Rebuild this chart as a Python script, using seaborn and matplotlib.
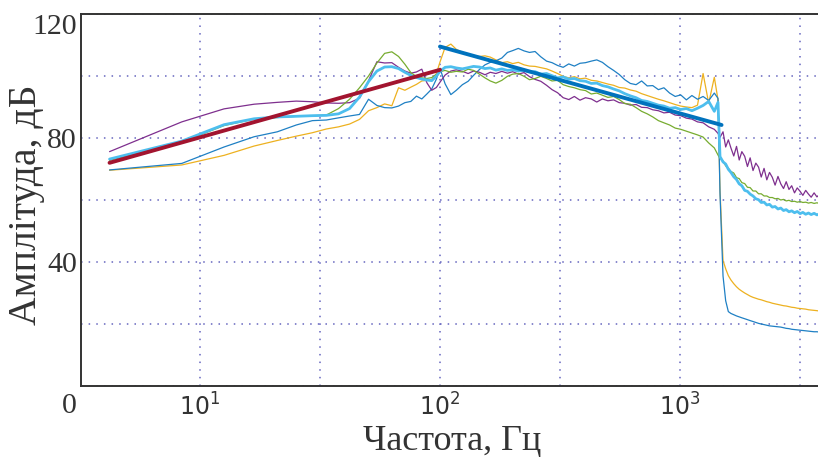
import matplotlib
matplotlib.use("Agg")
import matplotlib.pyplot as plt
import matplotlib.transforms as mtransforms
from matplotlib.ticker import NullLocator
import pandas as pd
import seaborn as sns

sns.set_style("white")
plt.rcParams["font.family"] = ["Liberation Serif", "DejaVu Serif"]
plt.rcParams["mathtext.fontset"] = "dejavusans"

# frequency bins, Hz (low / mid / tail part of the spectrum)
freq_low = [4.2, 8.4, 12.6, 16.8, 21.0, 25.2, 29.4, 33.6, 37.8, 42.0, 46.2, 50.4,
            54.6, 58.8, 63.0, 67.2, 71.4, 75.6, 79.8, 84.0, 88.2, 92.4, 96.6]
freq_mid = [100, 105, 111, 117, 124, 131, 138, 146, 154, 162, 171, 181, 191, 201,
            212, 224, 236, 249, 263, 278, 293, 309, 326, 344, 363, 383, 404, 427,
            450, 475, 501, 529, 558, 589, 621, 656, 692, 730, 770, 813, 857, 905,
            955, 1007, 1063, 1121, 1183, 1248, 1317, 1390, 1440]
freq_tail = [1468, 1511, 1550, 1590, 1630, 1675, 1720, 1765, 1810, 1860, 1910,
             1960, 2015, 2070, 2125, 2180, 2240, 2300, 2360, 2425, 2490, 2560,
             2630, 2700, 2770, 2845, 2920, 3000, 3080, 3165, 3250, 3340, 3430,
             3520, 3620, 3720, 3800]
freq = freq_low + freq_mid + freq_tail

# amplitude spectra, dB
yellow = [69.6, 71.3, 74.4, 77.4, 79.2, 80.6, 81.7, 82.9, 83.6, 84.5, 86.0, 88.8,
          89.8, 91.0, 90.4, 96.2, 95.4, 96.4, 97.3, 98.4, 98.6, 98.9, 100.8,
          104.5, 109.2, 110.3, 108.6, 107.6, 106.9, 106.6, 106.3, 106.5, 106.1,
          105.2, 104.3, 104.6, 104.0, 104.4, 103.6, 103.2, 103.1, 102.7, 102.3,
          101.6, 100.8, 99.9, 99.4, 99.8, 99.1, 99.3, 98.6, 98.4, 97.9,
          97.4, 97.0, 96.3, 96.1, 95.5, 95.1, 94.3, 93.7, 93.1, 92.5,
          92.0, 91.4, 90.8, 90.3, 90.0, 89.8, 90.6, 100.8, 91.2, 99.6, 92.3,
          63.0, 40.5, 37.8, 35.6, 34.2, 33.0, 32.0, 31.2, 30.6, 30.0,
          29.5, 29.0, 28.6, 28.3, 28.0, 27.8, 27.5, 27.2, 27.0, 26.7,
          26.5, 26.3, 26.1, 25.9, 25.8, 25.6, 25.4, 25.3, 25.1, 25.0,
          24.9, 24.8, 24.6, 24.5, 24.4, 24.3, 24.2]
blue = [69.7, 71.8, 77.1, 80.4, 82.0, 84.2, 85.6, 85.8, 86.5, 87.1, 87.6, 92.5,
        90.5, 89.8, 89.7, 90.3, 91.4, 91.8, 93.5, 92.6, 94.2, 95.8, 99.0,
        102.5, 97.5, 94.0, 95.4, 97.2, 98.3, 100.2, 102.1, 103.6, 104.4,
        104.9, 105.8, 107.6, 108.2, 108.9, 108.1, 107.6, 107.9, 106.2, 104.8,
        104.3, 103.4, 102.8, 103.9, 103.2, 104.1, 104.3, 104.8, 105.2, 104.4,
        103.0, 101.8, 100.5, 98.8, 97.6, 97.2, 98.4, 96.8, 96.9, 95.6,
        96.2, 94.5, 93.4, 93.9, 92.3, 93.7, 92.5, 93.4, 92.1, 94.5, 92.8,
        62.0, 35.5, 27.5, 24.0, 23.4, 23.0, 22.6, 22.3, 22.0, 21.7,
        21.4, 21.1, 20.8, 20.5, 20.2, 20.0, 19.8, 19.6, 19.4, 19.3,
        19.2, 19.1, 19.0, 18.8, 18.6, 18.5, 18.3, 18.2, 18.1, 18.0,
        17.9, 17.8, 17.7, 17.6, 17.5, 17.5, 17.4]
purple = [75.6, 85.2, 89.4, 90.9, 91.5, 91.9, 91.7, 91.3, 91.2, 91.4, 92.8, 98.5,
          104.6, 104.2, 104.3, 102.8, 101.6, 100.9, 101.3, 102.2, 97.8, 95.4, 96.3,
          98.0, 100.3, 101.6, 102.0, 101.5, 100.8, 101.6, 101.2, 100.4, 101.2,
          100.8, 101.5, 100.9, 101.4, 100.6, 101.1, 99.8, 98.9, 98.3, 97.0,
          95.6, 94.6, 93.0, 92.4, 93.4, 92.2, 93.0, 92.6, 91.6, 92.6,
          92.0, 92.3, 91.4, 91.2, 90.6, 90.8, 89.9, 89.8, 89.1, 88.8,
          88.1, 88.3, 87.4, 87.2, 86.4, 86.1, 85.2, 84.9, 83.6, 82.8, 81.5,
          80.2, 82.0, 77.1, 79.4, 76.8, 74.2, 77.3, 72.9, 75.6, 74.1,
          70.8, 73.6, 69.5, 71.9, 70.6, 67.4, 70.2, 66.5, 68.9, 67.3,
          64.8, 67.6, 65.2, 63.7, 65.9, 63.4, 64.6, 62.3, 63.9, 62.8,
          61.5, 63.1, 61.9, 60.9, 62.3, 61.0, 61.7]
green = [72.8, 78.7, 84.0, 86.1, 86.6, 87.0, 87.2, 87.4, 89.5, 92.5, 96.2, 100.0,
         104.2, 107.3, 107.8, 106.3, 103.8, 101.1, 99.8, 99.4, 99.2, 99.5, 100.5,
         101.4, 101.8, 101.2, 101.5, 101.3, 102.2, 101.8, 100.6, 99.4, 98.4,
         97.7, 98.6, 99.9, 100.6, 100.8, 99.9, 98.8, 99.2, 99.9, 99.2,
         98.4, 98.6, 97.2, 96.6, 96.2, 95.6, 95.3, 94.2, 94.5, 93.8,
         93.1, 93.4, 92.4, 91.1, 90.9, 89.8, 88.6, 87.8, 86.8, 85.6,
         84.9, 84.2, 83.2, 82.8, 82.2, 81.6, 81.0, 80.3, 78.4, 76.8, 74.5,
         73.5, 72.6, 71.0, 70.3, 69.2, 68.7, 67.2, 66.9, 65.6, 65.3,
         64.1, 64.0, 62.9, 62.9, 62.0, 62.0, 61.3, 61.3, 60.8, 60.8,
         60.4, 60.5, 60.0, 60.2, 59.7, 59.9, 59.5, 59.6, 59.3, 59.5,
         59.2, 59.3, 59.0, 59.2, 58.9, 59.1, 58.9]
cyan = [73.2, 79.0, 84.3, 86.2, 86.8, 87.0, 87.2, 87.3, 87.8, 89.5, 93.2, 98.2,
        101.6, 102.9, 103.0, 102.4, 101.2, 100.2, 99.5, 99.0, 98.7, 98.5, 100.0,
        101.5, 102.8, 103.0, 102.6, 102.3, 102.7, 103.1, 102.9, 102.4, 102.6,
        101.9, 102.3, 101.8, 102.0, 101.6, 101.9, 101.3, 101.4, 100.6, 100.8,
        100.1, 99.4, 99.7, 99.0, 99.2, 98.5, 98.3, 97.6, 97.7, 96.9,
        96.5, 95.8, 95.2, 94.3, 93.6, 93.0, 92.1, 91.8, 91.2, 90.6,
        90.3, 89.6, 89.8, 89.2, 89.5, 88.8, 89.6, 90.5, 91.8, 88.6, 91.5,
        74.0, 72.3, 71.6, 69.9, 68.9, 67.5, 66.6, 65.2, 64.6, 63.1,
        62.8, 61.9, 61.3, 60.4, 60.1, 59.2, 59.3, 58.4, 58.6, 57.7,
        57.9, 57.1, 57.4, 56.6, 56.9, 56.2, 56.5, 55.9, 56.3, 55.6,
        56.0, 55.4, 55.8, 55.3, 55.7, 55.2, 55.5]

# straight-line approximations
trend_low_freq = [4.2, 100]
trend_low_db = [72.0, 102.0]
trend_high_freq = [100, 1490]
trend_high_db = [109.5, 84.2]

df = pd.DataFrame({"freq": freq, "yellow": yellow, "blue": blue,
                   "purple": purple, "green": green, "cyan": cyan})

fig = plt.figure(figsize=(8.18, 4.59), dpi=100)
ax = fig.add_axes([81.2 / 818, 73 / 459, 742.8 / 818, 372 / 459])
ax.set_xscale("log")

styles = [("yellow", "#EDB120", 0.9), ("blue", "#1f80c4", 0.9),
          ("purple", "#7E2F8E", 0.9), ("green", "#77AC30", 0.9),
          ("cyan", "#4DBEEE", 2.0)]
for col, color, lw in styles:
    sns.lineplot(data=df, x="freq", y=col, ax=ax, color=color, lw=lw,
                 estimator=None, sort=False, legend=False)

sns.lineplot(x=trend_low_freq, y=trend_low_db, ax=ax, color="#A2142F", lw=2.8,
             estimator=None, legend=False)
sns.lineplot(x=trend_high_freq, y=trend_high_db, ax=ax, color="#0072BD", lw=2.8,
             estimator=None, legend=False)

ax.set_xlim(3.2, 3981)
ax.set_ylim(0, 120)

ax.set_xticks([10, 31.62, 100, 316.2, 1000, 3162])
ax.set_xticklabels([r"$10^1$", "", r"$10^2$", "", r"$10^3$", ""], fontsize=17)
ax.xaxis.set_minor_locator(NullLocator())
ax.set_yticks([0, 20, 40, 60, 80, 100, 120])
ax.set_yticklabels(["0", "", "40", "", "80", "", "120"], fontsize=21.5)

ax.tick_params(axis="x", direction="in", length=6, width=1.0, pad=5,
               colors="#333333")
ax.tick_params(axis="y", direction="in", length=4, width=1.0, pad=3,
               colors="#333333")

# 0 and 120 labels sit a little lower in the original
for lbl in ax.get_yticklabels():
    shift = {"0": -17, "120": -10}.get(lbl.get_text())
    if shift:
        lbl.set_transform(lbl.get_transform() + mtransforms.ScaledTranslation(
            0, shift / 100, fig.dpi_scale_trans))

ax.grid(True, which="major", color=(0.4, 0.4, 0.75),
        linestyle=(0, (1, 4)), linewidth=1.1)
for side in ["left", "bottom", "top", "right"]:
    ax.spines[side].set_color("#333333")
    ax.spines[side].set_linewidth(1.4)

ax.set_xlabel("Частота, Гц", fontsize=26, color="#333333")
ax.set_ylabel("Амплітуда, дБ", fontsize=28.5, color="#333333")
ax.xaxis.set_label_coords(0.5, -0.104)
ax.yaxis.set_label_coords(-0.049, 0.487)

fig.savefig("out.png", dpi=100)
